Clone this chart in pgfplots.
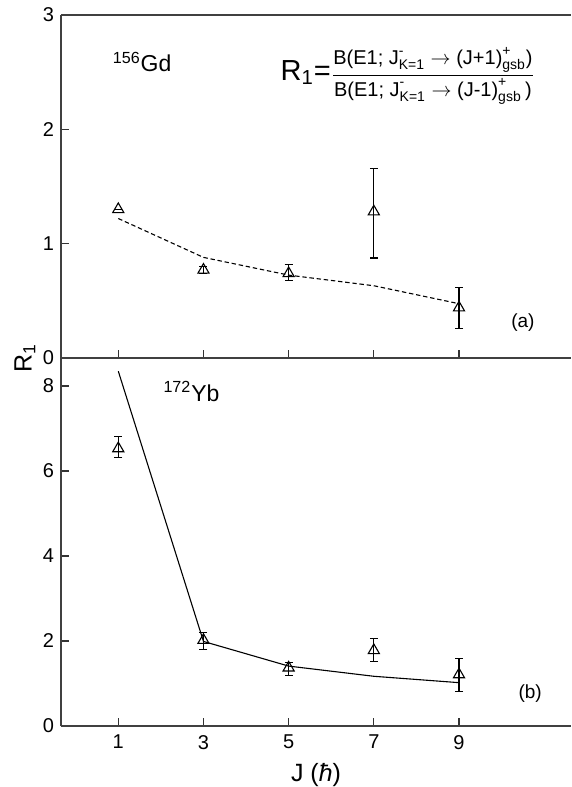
\documentclass[border=0pt]{standalone}
\usepackage{fontspec}
\setmainfont{Liberation Sans}
\usepackage{amsmath}
\usepackage{pgfplots}
\pgfplotsset{compat=1.18}
\begin{document}
\begin{tikzpicture}
\pgfplotsset{
  panel/.style={
    scale only axis, width=255pt,
    xmin=-0.345, xmax=11.63,
    axis x line=box, axis y line*=left,
    xtick={1,3,5,7,9}, xtick pos=lower, ytick pos=left,
    tick align=inside, major tick length=4pt,
    axis line style={line width=0.6pt, black!75},
    tick style={line width=0.6pt, black!80},
    /pgf/number format/assume math mode=true,
    tick label style={font=\fontsize{10}{12}\selectfont},
    clip=false,
  },
  expt/.style={black, only marks, mark=triangle, mark size=3.2pt,
    mark options={line width=0.55pt, fill=white},
    error bars/.cd, y dir=both, y explicit,
    error bar style={line width=0.6pt, black},
    error mark options={rotate=90, mark size=2pt, line width=0.6pt, black}},
}
\begin{axis}[panel, name=top, height=171.5pt, ymin=0, ymax=3, ytick={0,1,2,3},
  xticklabels={}]
\addplot[black, line width=0.55pt, dash pattern=on 2.2pt off 1.4pt] coordinates {
  (1,1.22) (3,0.88) (5,0.725) (7,0.632) (9,0.475)};
\addplot[expt] table[x=J, y=R, y error plus=ep, y error minus=em] {
J R ep em
1 1.30 0 0
3 0.77 0.03 0.03
5 0.74 0.075 0.065
7 1.28 0.375 0.405
9 0.44 0.18 0.18
};
\node[font=\fontsize{11.5}{13}\selectfont] at (axis cs:1.56,2.59) {\textsuperscript{156}Gd};
\node[font=\fontsize{10}{12}\selectfont] at (axis cs:7.8,2.47) {{\fontsize{14.5}{16}\selectfont R\textsubscript{1}=}$\dfrac{\text{B(E1; J}^{\text{-}}_{\text{K=1}}\rightarrow\text{(J+1)}^{\text{+}}_{\text{gsb}}\text{)}}{\text{B(E1; J}^{\text{-}}_{\text{K=1}}\rightarrow\text{(J-1)}^{\text{+}}_{\text{gsb}}\text{\,)}}$};
\node[font=\fontsize{9.5}{11}\selectfont] at (axis cs:10.5,0.31) {(a)};
\end{axis}
\begin{axis}[panel, name=bottom, at={(top.south west)}, anchor=north west,
  height=184pt, ymin=0, ymax=8.66, ytick={0,2,4,6,8},
  xticklabel style={yshift=-1pt},
  xlabel={J (\textit{ħ})}, xlabel style={font=\fontsize{12.5}{14}\selectfont, yshift=0pt}]
\addplot[black, line width=0.55pt] coordinates {
  (1,8.35) (3,1.99) (5,1.41) (7,1.17) (9,1.02)};
\addplot[expt] table[x=J, y=R, y error plus=ep, y error minus=em] {
J R ep em
1 6.53 0.28 0.22
3 2.02 0.18 0.22
5 1.37 0.13 0.19
7 1.78 0.28 0.27
9 1.21 0.38 0.39
};
\node[font=\fontsize{11.5}{13}\selectfont] at (axis cs:2.72,7.87) {\textsuperscript{172}Yb};
\node[font=\fontsize{9.5}{11}\selectfont] at (axis cs:10.67,0.76) {(b)};
\end{axis}
\node[rotate=90, font=\fontsize{12.5}{14}\selectfont] at ([xshift=-18pt]top.south west) {R\textsubscript{1}};
\pgfresetboundingbox
\path[use as bounding box] ([xshift=-30.5pt,yshift=7.5pt]top.north west) rectangle ([yshift=-30.5pt]bottom.south east);
\end{tikzpicture}
\end{document}
